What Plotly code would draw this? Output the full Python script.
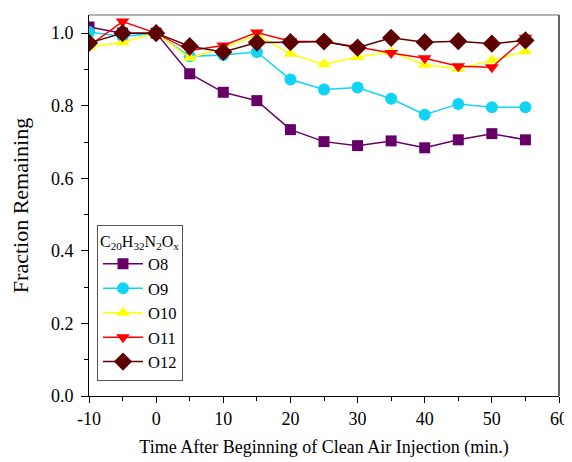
import plotly.graph_objects as go

time_min = [-10, -5, 0, 5, 10, 15, 20, 25, 30, 35, 40, 45, 50, 55]
o8 = [1.017, 1.000, 1.000, 0.888, 0.837, 0.814, 0.734, 0.701, 0.690, 0.703, 0.684, 0.706, 0.723, 0.706]
o9 = [1.003, 0.991, 1.000, 0.936, 0.940, 0.948, 0.872, 0.845, 0.850, 0.819, 0.775, 0.805, 0.796, 0.796]
o10 = [0.961, 0.975, 1.000, 0.932, 0.958, 0.995, 0.943, 0.914, 0.934, 0.948, 0.913, 0.902, 0.925, 0.950]
o11 = [0.965, 1.032, 1.000, 0.952, 0.966, 1.002, 0.978, 0.977, 0.962, 0.945, 0.931, 0.909, 0.906, 0.987]
o12 = [0.973, 1.000, 1.000, 0.964, 0.948, 0.974, 0.975, 0.977, 0.960, 0.987, 0.975, 0.978, 0.971, 0.980]

x_ticks = [-10, 0, 10, 20, 30, 40, 50, 60]
x_tick_labels = ["-10", "0", "10", "20", "30", "40", "50", "60"]

series = [
    ("O8", o8, "#660066", "square", 11),
    ("O9", o9, "#11D4F5", "circle", 12),
    ("O10", o10, "#FFFF00", "triangle-up", 12),
    ("O11", o11, "#FF0000", "triangle-down", 12),
    ("O12", o12, "#5C0000", "diamond", 14),
]

fig = go.Figure()
for name, vals, color, sym, size in series:
    fig.add_trace(go.Scatter(
        x=time_min, y=vals, name=name, mode="lines+markers",
        line=dict(color=color, width=1.5),
        marker=dict(symbol=sym, size=size, color=color, line=dict(width=0)),
    ))

font_family = "Liberation Serif"
# the page body adds an 8px offset, so the figure is sized/margined to compensate
fig.update_layout(
    width=564, height=454,
    margin=dict(l=81, r=13, t=7, b=66),
    paper_bgcolor="white", plot_bgcolor="white",
    font=dict(family=font_family, size=17, color="black"),
    showlegend=True,
    legend=dict(
        title=dict(text="C<sub>20</sub>H<sub>32</sub>N<sub>2</sub>O<sub>x</sub>",
                   font=dict(family=font_family, size=16)),
        font=dict(family=font_family, size=16.5),
        x=0.017, y=0.04, xanchor="left", yanchor="bottom",
        bordercolor="#555555", borderwidth=1, bgcolor="white",
        itemwidth=40, tracegroupgap=0,
    ),
    xaxis=dict(
        range=[-10, 60], tickmode="array", tickvals=x_ticks, ticktext=x_tick_labels,
        ticks="outside", ticklen=6, tickcolor="black",
        minor=dict(dtick=5, tick0=-10, ticks="outside", ticklen=4, tickcolor="black"),
        showline=True, linecolor="black", linewidth=1,
        showgrid=False, zeroline=False, automargin=False,
        title=dict(text="Time After Beginning of Clean Air Injection (min.)",
                   font=dict(family=font_family, size=18), standoff=12),
        tickfont=dict(family=font_family, size=18),
    ),
    yaxis=dict(
        range=[0, 1.05], tickmode="linear", tick0=0, dtick=0.2, tickformat=".1f",
        ticks="outside", ticklen=7, tickcolor="black",
        minor=dict(dtick=0.1, ticks="outside", ticklen=4, tickcolor="black"),
        showline=True, linecolor="black", linewidth=1,
        showgrid=False, zeroline=False, automargin=False,
        ticklabelstandoff=4,
        title=dict(text="Fraction Remaining", font=dict(family=font_family, size=22), standoff=18),
        tickfont=dict(family=font_family, size=18),
    ),
)

# frame: top and right borders
fig.add_shape(type="line", xref="paper", yref="paper", x0=0, x1=1, y0=1, y1=1,
              line=dict(color="#999999", width=1.5))
fig.add_shape(type="line", xref="paper", yref="paper", x0=1, x1=1, y0=0, y1=1,
              line=dict(color="#333333", width=1.5))

fig.write_html("out.html")
